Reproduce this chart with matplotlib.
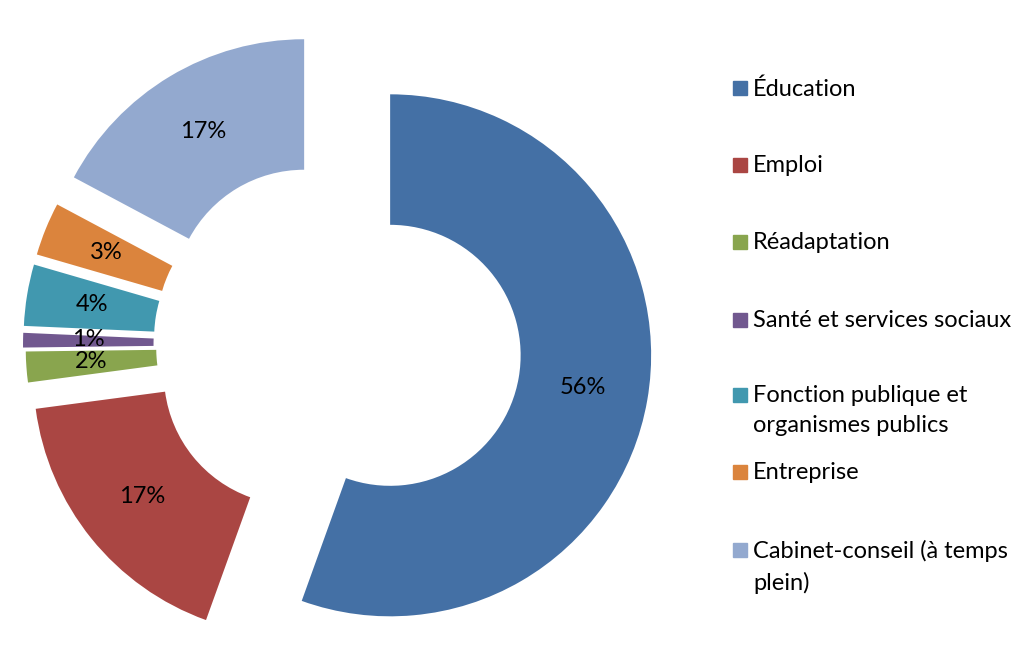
import math
import matplotlib.pyplot as plt
from matplotlib.patches import Rectangle

plt.rcParams['font.family'] = ['Lato', 'DejaVu Sans']

# Data (share in %)
labels = ["Éducation", "Emploi", "Réadaptation", "Santé et services sociaux",
          "Fonction publique et\norganismes publics", "Entreprise",
          "Cabinet-conseil (à temps\nplein)"]
values = [55.5, 17.4, 1.9, 0.9, 3.8, 3.3, 17.2]
colors = ["#4470A5", "#AA4643", "#89A54E", "#71588F", "#4198AF", "#DB843D", "#93A9CF"]
explode = [0.23, 0.18, 0.17, 0.18, 0.18, 0.18, 0.2]

W, H = 1035, 652
fig = plt.figure(figsize=(W / 100, H / 100), dpi=100)
ax = fig.add_axes([0, 0, 1, 1])

# pie centre at (331, 345) px, outer radius 261 px
R = 261.0
cx, cy = 331.0, 345.0

wedges, _ = ax.pie(values, colors=colors, explode=explode, startangle=90,
                   counterclock=False, radius=1.0,
                   wedgeprops=dict(width=0.5, linewidth=0))

# percentage labels in the middle of each ring segment
total = sum(values)
ang = 90.0
for v, e in zip(values, explode):
    span = v / total * 360
    mid = math.radians(ang - span / 2)
    ang -= span
    r = 0.75 + e
    ax.text(r * math.cos(mid), r * math.sin(mid) + 0.005, "%.0f%%" % (v / total * 100),
            ha='center', va='center', fontsize=17, color='black')

ax.set_xlim(-cx / R, (W - cx) / R)
ax.set_ylim(-(H - cy) / R, cy / R)
ax.set_aspect('auto')
ax.axis('off')

# legend (Excel style, marker on first line)
leg_y = [88, 165, 242, 320, 395, 472, 550]  # first-line centres in px
for lab, col, y in zip(labels, colors, leg_y):
    fig.patches.append(Rectangle((733 / W, 1 - (y + 7) / H), 14 / W, 14 / H,
                                 transform=fig.transFigure, color=col))
    fig.text(753 / W, 1 - (y - 10) / H, lab, ha='left', va='top',
             fontsize=17, color='black', linespacing=1.55)

plt.savefig("out.png", dpi=100)
